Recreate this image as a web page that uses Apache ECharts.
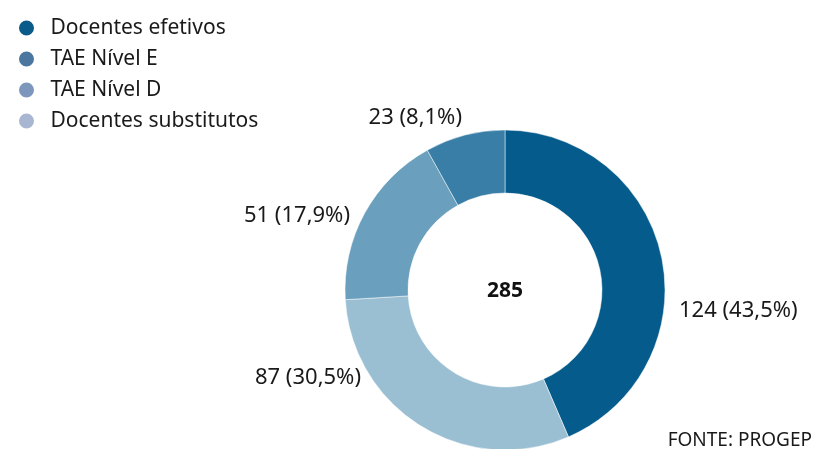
<!DOCTYPE html>
<html>
<head>
<meta charset="utf-8">
<script src="https://cdn.jsdelivr.net/npm/echarts@6/dist/echarts.min.js"></script>
<style>
  html, body { margin: 0; padding: 0; background: #fff; }
  #chart { width: 827px; height: 449px; }
</style>
</head>
<body>
<div id="chart"></div>
<script>
// dados (sentido horário a partir do topo)
const categories = ['Docentes efetivos', 'Docentes substitutos', 'TAE Nível D', 'TAE Nível E']
const values = [124, 87, 51, 23]
const sliceColors = ['#055b8b', '#9bbfd2', '#6a9fbd', '#387ea6']

// legenda na ordem do original
const legendOrder = ['Docentes efetivos', 'TAE Nível E', 'TAE Nível D', 'Docentes substitutos']
const legendColors = ['#0b5b8a', '#4a76a0', '#7d96bb', '#a9b6d1']

const sourceText = 'FONTE: PROGEP'

const total = values.reduce((a, b) => a + b, 0)
const font = 'Noto Sans'

// posição dos rótulos (âncora x, y, alinhamento)
const labelSpots = [
  [679, 311, 'left'],
  [361, 378, 'right'],
  [350, 216, 'right'],
  [462, 118, 'right']
]

const chart = echarts.init(document.getElementById('chart'))

const option = {
  animation: false,
  legend: {
    orient: 'vertical',
    left: 12,
    top: 12,
    icon: 'circle',
    itemWidth: 38,
    itemHeight: 17,
    itemGap: 9,
    selectedMode: false,
    textStyle: { fontFamily: font, fontSize: 21, color: '#1a1a1a', lineHeight: 22 },
    data: legendOrder.map((n, i) => ({ name: n, itemStyle: { color: legendColors[i] } }))
  },
  graphic: [
    {
      type: 'text',
      style: {
        text: String(total),
        x: 505, y: 291,
        align: 'center', verticalAlign: 'middle',
        font: 'bold 21px "Noto Sans"',
        fill: '#111'
      }
    },
    {
      type: 'text',
      style: {
        text: sourceText,
        x: 812, y: 441,
        align: 'right', verticalAlign: 'middle',
        font: '19px "Noto Sans"',
        fill: '#1a1a1a'
      }
    }
  ],
  series: [
    {
      type: 'pie',
      center: [505, 290],
      radius: [97, 160],
      startAngle: 90,
      clockwise: true,
      avoidLabelOverlap: false,
      itemStyle: { borderColor: '#fff', borderWidth: 0.5 },
      emphasis: { disabled: true },
      label: {
        show: true,
        position: 'outside',
        fontFamily: font,
        fontSize: 22,
        color: '#1a1a1a',
        formatter: p => p.value + ' (' + (p.value / total * 100).toFixed(1).replace('.', ',') + '%)'
      },
      labelLine: { show: false },
      labelLayout: p => {
        const s = labelSpots[p.dataIndex]
        return { x: s[0], y: s[1], align: s[2], verticalAlign: 'middle' }
      },
      data: categories.map((n, i) => ({ name: n, value: values[i], itemStyle: { color: sliceColors[i] } }))
    }
  ]
}

option && chart.setOption(option)
</script>
</body>
</html>
